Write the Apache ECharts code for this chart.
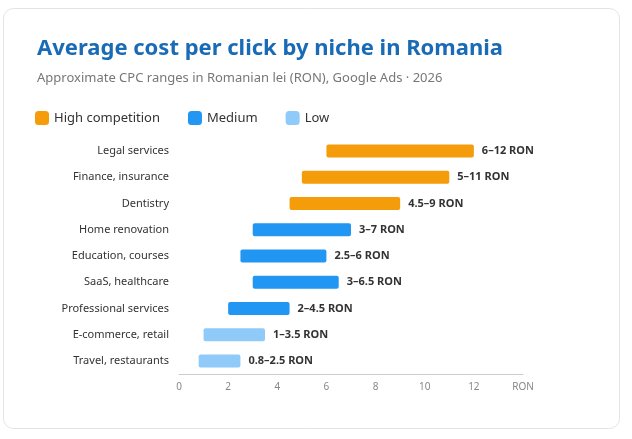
<!DOCTYPE html>
<html><head><meta charset="utf-8">
<script src="https://cdn.jsdelivr.net/npm/echarts@6/dist/echarts.min.js"></script>
<style>html,body{margin:0;padding:0;background:#fff}#c{width:632px;height:439px}</style>
</head><body><div id="c"></div>
<script>
const categories = ['Legal services','Finance, insurance','Dentistry','Home renovation','Education, courses','SaaS, healthcare','Professional services','E-commerce, retail','Travel, restaurants'];
const lows = [6,5,4.5,3,2.5,3,2,1,0.8];
const highs = [12,11,9,7,6,6.5,4.5,3.5,2.5];
const levels = ['High','High','High','Medium','Medium','Medium','Medium','Low','Low'];
const rangeLabels = ['6–12 RON','5–11 RON','4.5–9 RON','3–7 RON','2.5–6 RON','3–6.5 RON','2–4.5 RON','1–3.5 RON','0.8–2.5 RON'];
const xTicks = [0,2,4,6,8,10,12];

const groups = [['High competition','High','#f59c0b'],['Medium','Medium','#2196f3'],['Low','Low','#90caf9']];
const cats = categories.slice().reverse();
const rev = a => a.slice().reverse();
const L = rev(lows), H = rev(highs), LV = rev(levels), RL = rev(rangeLabels);

const series = [{
  type:'bar', stack:'s', silent:true, itemStyle:{color:'transparent'}, data:L, barWidth:13
}];
groups.forEach(([name,key,color])=>{
  series.push({
    name, type:'bar', stack:'s', barWidth:13,
    itemStyle:{color, borderRadius:2},
    data:H.map((h,i)=>LV[i]===key? h-L[i] : '-'),
    label:{show:true, position:'right', distance:8, color:'#333', fontWeight:'bold', fontSize:11, fontFamily:'Noto Sans',
      formatter:p=>RL[p.dataIndex]}
  });
});

const chart = echarts.init(document.getElementById('c'), null, {renderer:'canvas'});
chart.setOption({
  animation:false,
  textStyle:{fontFamily:'Noto Sans'},
  graphic:[{type:'rect', shape:{x:3.5,y:8.5,width:616,height:420,r:10}, style:{fill:'#fff',stroke:'#e3e3e3',lineWidth:1}, z:-10}],
  title:{text:'Average cost per click by niche in Romania', left:32, top:33,
    textStyle:{color:'#1a6bb5', fontSize:22, fontWeight:'bold', fontFamily:'Noto Sans'},
    subtext:'Approximate CPC ranges in Romanian lei (RON), Google Ads · 2026', itemGap:12,
    subtextStyle:{color:'#777', fontSize:13, fontFamily:'Noto Sans'}},
  legend:{left:30, top:106, itemWidth:14, itemHeight:14, itemGap:28, icon:'roundRect',
    textStyle:{fontSize:13, color:'#333', fontFamily:'Noto Sans'},
    data:groups.map(g=>g[0])},
  grid:{left:179, right:109, top:138, bottom:65},
  xAxis:{type:'value', min:0, max:14, interval:2,
    axisLine:{show:true, lineStyle:{color:'#ccc'}}, axisTick:{show:false}, splitLine:{show:false},
    axisLabel:{color:'#888', fontSize:10, formatter:v=> v===14?'RON':(xTicks.includes(v)?String(v):'')}},
  yAxis:{type:'category', data:cats, axisLine:{show:false}, axisTick:{show:false},
    axisLabel:{color:'#333', fontSize:11, margin:10}},
  series
});
</script></body></html>
